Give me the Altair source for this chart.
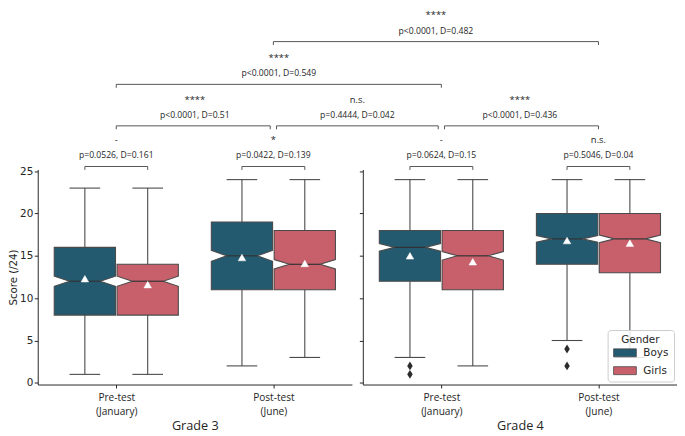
import altair as alt
import pandas as pd

# ---------------- data ----------------
grades = ["Grade 3", "Grade 4"]
tests = [["Pre-test", "(January)"], ["Post-test", "(June)"]]
genders = ["Boys", "Girls"]
colors = ["#245a70", "#c8606c"]
y_ticks = [0, 5, 10, 15, 20, 25]

# boxes ordered grade / test / gender
box_grade = [0, 0, 0, 0, 1, 1, 1, 1]
box_test = [0, 0, 1, 1, 0, 0, 1, 1]
box_gender = [0, 1, 0, 1, 0, 1, 0, 1]
whis_lo = [1, 1, 2, 3, 3, 2, 5, 3]
q1 = [8, 8, 11, 11, 12, 11, 14, 13]
median = [12, 12, 15, 14, 16, 15, 17, 17]
q3 = [16, 14, 19, 18, 18, 18, 20, 20]
whis_hi = [23, 23, 24, 24, 24, 24, 24, 24]
notch_lo = [11.4, 11.4, 14.35, 13.45, 15.55, 14.5, 16.6, 16.55]
notch_hi = [12.6, 12.6, 15.65, 14.55, 16.45, 15.5, 17.4, 17.45]
mean = [12.3, 11.6, 14.8, 14.1, 15.0, 14.3, 16.8, 16.5]
outlier_box = [4, 4, 6, 6]
outlier_val = [2, 1, 4, 2]

# Boys vs Girls within each grade/test
pair_sig = ["-", "*", "-", "n.s."]
pair_p = ["p=0.0526, D=0.161", "p=0.0422, D=0.139",
          "p=0.0624, D=0.15", "p=0.5046, D=0.04"]

# comparisons across tests / grades: (grade, test) -> (grade, test)
cmp_from = [(0, 0), (0, 1), (1, 0), (0, 0), (0, 1)]
cmp_to = [(0, 1), (1, 0), (1, 1), (1, 0), (1, 1)]
cmp_level = [1, 1, 1, 2, 3]
cmp_sig = ["****", "n.s.", "****", "****", "****"]
cmp_p = ["p<0.0001, D=0.51", "p=0.4444, D=0.042", "p<0.0001, D=0.436",
         "p<0.0001, D=0.549", "p<0.0001, D=0.482"]
level_y = [25.55, 30.35, 35.25, 40.3]

# ---------------- layout / style ----------------
W, H, GAP = 317, 217, 11
BOXW = 0.39
OFF = (W + GAP) / (W / 2.0)      # panel offset in x units
EDGE = "#4a4a4a"
TXT = "#262626"
BR = "#555555"
SANS = "DejaVu Sans"
OPEN = "Open Sans"
TICK_DROP = 0.4
P_OFF = 0.95
S_OFF = 2.75


def slot(g, t):
    return g * OFF + t + 0.5


# box polygons (notched)
poly = []
stats = []
for i in range(len(q1)):
    c = box_test[i] + 0.5 + (box_gender[i] - 0.5) * 0.4
    h = BOXW / 2
    for yv, hw in [(q1[i], h), (notch_lo[i], h), (median[i], h / 2),
                   (notch_hi[i], h), (q3[i], h)]:
        poly.append(dict(g=box_grade[i], box=i, Gender=genders[box_gender[i]],
                         y=yv, xl=c - hw, xr=c + hw))
    stats.append(dict(g=box_grade[i], c=c, cl=c - h / 2, cr=c + h / 2,
                      q1=q1[i], q3=q3[i], med=median[i], lo=whis_lo[i],
                      hi=whis_hi[i], mean=mean[i]))
poly = pd.DataFrame(poly)
stats = pd.DataFrame(stats)
outl = pd.DataFrame(dict(g=[box_grade[b] for b in outlier_box],
                         c=[stats.c[b] for b in outlier_box], v=outlier_val))

# annotations (global x units, drawn from panel 1)
hrule, vrule, texts = [], [], []
k = 0
for g in range(2):
    for t in range(2):
        x1, x2 = slot(g, t) - 0.2, slot(g, t) + 0.2
        y = level_y[0]
        hrule.append(dict(x1=x1, x2=x2, y=y))
        vrule += [dict(x=x1, y=y, y2=y - TICK_DROP), dict(x=x2, y=y, y2=y - TICK_DROP)]
        texts.append(dict(x=slot(g, t), y=y + P_OFF, s=pair_p[k], kind="p"))
        texts.append(dict(x=slot(g, t), y=y + S_OFF, s=pair_sig[k], kind="s"))
        k += 1
ends = [(slot(*a), slot(*b), L) for a, b, L in zip(cmp_from, cmp_to, cmp_level)]
for j, (a, b, L) in enumerate(ends):
    shared_a = any(L2 == L and (a == b2 or a == a2) for m, (a2, b2, L2) in enumerate(ends) if m != j)
    shared_b = any(L2 == L and (b == a2 or b == b2) for m, (a2, b2, L2) in enumerate(ends) if m != j)
    xa = a + (0.02 if shared_a else 0)
    xb = b - (0.02 if shared_b else 0)
    y = level_y[L]
    hrule.append(dict(x1=xa, x2=xb, y=y))
    vrule += [dict(x=xa, y=y, y2=y - TICK_DROP), dict(x=xb, y=y, y2=y - TICK_DROP)]
    texts.append(dict(x=(a + b) / 2, y=y + P_OFF, s=cmp_p[j], kind="p"))
    texts.append(dict(x=(a + b) / 2, y=y + S_OFF, s=cmp_sig[j], kind="s"))
hrule = pd.DataFrame(hrule)
vrule = pd.DataFrame(vrule)
texts = pd.DataFrame(texts)

label_expr = "datum.value < 1 ? ['%s','%s'] : ['%s','%s']" % (
    tests[0][0], tests[0][1], tests[1][0], tests[1][1])

xs = alt.Scale(domain=[0, 2], nice=False, zero=False)
ys = alt.Scale(domain=[-0.2, 25.2], nice=False, zero=False)


def panel(g):
    xaxis = alt.Axis(values=[0.5, 1.5], labelExpr=label_expr, title=grades[g],
                     titleFont=OPEN, titleFontSize=12.8, titleFontWeight="normal",
                     titlePadding=3, labelFont=OPEN, labelFontSize=10.2,
                     labelPadding=5, labelLineHeight=13.4, labelAngle=0,
                     labelFlush=False, grid=False)
    if g == 0:
        yaxis = alt.Axis(values=y_ticks, title="Score (/24)", titleFont=SANS,
                         titleFontSize=10.3, titleFontWeight="normal",
                         titlePadding=1, labelFont=SANS, labelFontSize=10.5,
                         labelPadding=1.5, grid=False)
    else:
        yaxis = alt.Axis(values=y_ticks, title=None, labels=False, grid=False)

    def X(f):
        return alt.X(f, type="quantitative", scale=xs, axis=xaxis)

    def Y(f):
        return alt.Y(f, type="quantitative", scale=ys, axis=yaxis)

    if g == 1:
        legend = alt.Legend(orient="bottom-right", offset=3, title="Gender",
                            titleFont=SANS, titleFontSize=10.5, titleFontWeight="normal",
                            titleAnchor="middle", titleColor=TXT, titlePadding=1,
                            labelFont=SANS, labelFontSize=10.5, labelColor=TXT,
                            labelOffset=12, symbolOffset=6,
                            symbolType="M-2,-0.7L2,-0.7L2,0.7L-2,0.7Z",
                            symbolSize=132, symbolStrokeColor=EDGE,
                            symbolStrokeWidth=0.8, symbolOpacity=1,
                            rowPadding=5, padding=5, cornerRadius=3,
                            strokeColor="#cccccc", fillColor="rgba(255,255,255,0.85)")
        color = alt.Color("Gender:N", scale=alt.Scale(domain=genders, range=colors),
                          legend=legend)
    else:
        color = alt.Color("Gender:N", scale=alt.Scale(domain=genders, range=colors),
                          legend=None)

    pg = poly[poly.g == g]
    sg = stats[stats.g == g]
    og = outl[outl.g == g]

    boxes = alt.Chart(pg).mark_area(orient="horizontal", stroke=EDGE,
                                    strokeWidth=1.1, opacity=1,
                                    strokeJoin="miter").encode(
        y=Y("y"), x=X("xl"), x2="xr:Q", color=color, detail="box:N")
    base = alt.Chart(sg)
    med = base.mark_rule(color="#333333", strokeWidth=1.2).encode(x=X("cl"), x2="cr:Q", y=Y("med"))
    wh_hi = base.mark_rule(color=EDGE, strokeWidth=1.1).encode(x=X("c"), y=Y("q3"), y2="hi:Q")
    wh_lo = base.mark_rule(color=EDGE, strokeWidth=1.1).encode(x=X("c"), y=Y("lo"), y2="q1:Q")
    cap_hi = base.mark_rule(color=EDGE, strokeWidth=1.1).encode(x=X("cl"), x2="cr:Q", y=Y("hi"))
    cap_lo = base.mark_rule(color=EDGE, strokeWidth=1.1).encode(x=X("cl"), x2="cr:Q", y=Y("lo"))
    means = base.mark_point(shape="triangle-up", filled=True, fill="white",
                            stroke="white", strokeWidth=0.5, size=58,
                            opacity=1).encode(x=X("c"), y=Y("mean"))
    layers = [boxes, med, wh_hi, wh_lo, cap_hi, cap_lo, means]
    if len(og):
        outs = alt.Chart(og).mark_point(shape="M0,-1L0.62,0L0,1L-0.62,0Z",
                                        filled=True, color="#2b2b2b", size=80,
                                        opacity=1).encode(x=X("c"), y=Y("v"))
        layers.append(outs)
    if g == 0:
        hr = alt.Chart(hrule).mark_rule(color=BR, strokeWidth=1).encode(
            x=X("x1"), x2="x2:Q", y=Y("y"))
        vr = alt.Chart(vrule).mark_rule(color=BR, strokeWidth=1).encode(
            x=X("x"), y=Y("y"), y2="y2:Q")
        tp = alt.Chart(texts[texts.kind == "p"]).mark_text(
            font=OPEN, fontSize=8.7, color=TXT, align="center",
            baseline="alphabetic").encode(x=X("x"), y=Y("y"), text="s:N")
        ts = alt.Chart(texts[texts.kind == "s"]).mark_text(
            font=OPEN, fontSize=9.5, color=TXT, align="center",
            baseline="alphabetic").encode(x=X("x"), y=Y("y"), text="s:N")
        layers += [hr, vr, tp, ts]
    return alt.layer(*layers).properties(width=W, height=H)


chart = alt.hconcat(panel(0), panel(1), spacing=GAP, bounds="flush",
                    padding=0, background="white").resolve_scale(
    color="independent").resolve_legend(color="independent").configure_view(
    stroke=None).configure_axis(
    domainColor=TXT, tickColor=TXT, labelColor=TXT, titleColor=TXT,
    domainWidth=1, tickWidth=1, tickSize=3.5)

chart.save("out.html", embed_options={"renderer": "svg", "actions": False})
